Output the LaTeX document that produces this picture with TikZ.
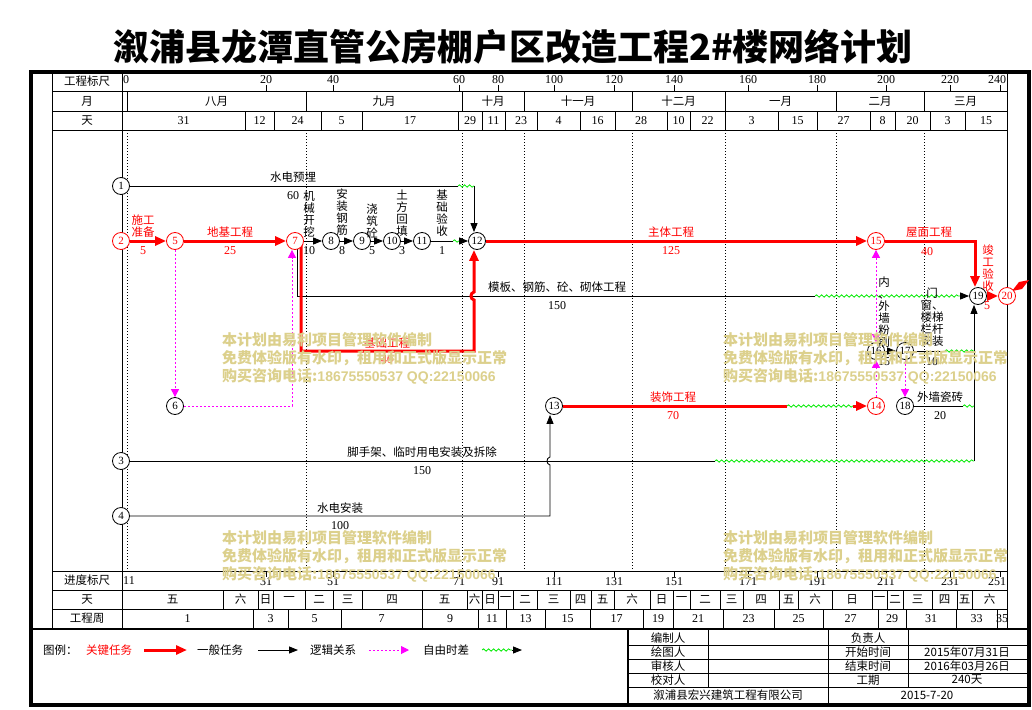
\documentclass[tikz,border=0pt]{standalone}
\usepackage{fontspec}
\setmainfont{Liberation Serif}
\newfontfamily\cjk{Noto Sans CJK SC}
\newfontfamily\asciib{Liberation Sans}
\usetikzlibrary{arrows.meta,decorations.pathmorphing}
\pgfdeclarelayer{grid}
\pgfdeclarelayer{edges}
\pgfsetlayers{grid,edges,main}
\definecolor{wm}{RGB}{220,208,140}
\definecolor{mag}{RGB}{255,0,255}
\definecolor{grn}{RGB}{0,235,0}
\definecolor{critred}{RGB}{255,0,0}
\tikzset{
 hdr/.style={font=\cjk\fontsize{11.5}{12}\selectfont,inner sep=0pt},
 hnum/.style={font=\fontsize{12}{12}\selectfont,inner sep=0pt},
 tbl/.style={draw=black,line width=0.8pt},
 grd/.style={draw=black,line width=0.6pt,dash pattern=on 1pt off 2pt},
 evt/.style={circle,draw=black,line width=0.8pt,fill=white,minimum size=17pt,inner sep=0pt,font=\fontsize{11}{11}\selectfont},
 revt/.style={evt,draw=critred,text=critred},
 lab/.style={font=\cjk\fontsize{11.5}{12}\selectfont,inner sep=0pt},
 rlab/.style={lab,text=critred},
 vlab/.style={lab,align=center},
 dur/.style={font=\fontsize{12}{12}\selectfont,inner sep=0pt},
 rdur/.style={dur,text=critred},
 crit/.style={draw=critred,line width=3pt},
 gen/.style={draw=black,line width=0.9pt},
 tipb/.style={-{Triangle[length=9pt,width=7pt]}},
 tipr/.style={-{Triangle[length=11pt,width=9pt]}},
 logic/.style={draw=mag,line width=1pt,dash pattern=on 2pt off 2pt},
 tipm/.style={-{Triangle[length=8pt,width=8pt]}},
 wave/.style={draw=grn,line width=0.8pt,decorate,decoration={snake,segment length=5pt,amplitude=1.2pt}},
 wmark/.style={font=\cjk\bfseries\fontsize{15}{15}\selectfont,text=wm,anchor=west,inner sep=0pt},
}
\begin{document}
\begin{tikzpicture}[x=1pt,y=-1pt]
\useasboundingbox (0,0) rectangle (1032,709);

\begin{pgfonlayer}{grid}
\fill[white] (0,0) rectangle (1032,709);
\draw[tbl] (52,72) -- (52,628);
\draw[tbl] (122,72) -- (122,628);
\draw[tbl] (1007,72) -- (1007,628);
\foreach \y in {91,111,130,571,590,609} \draw[tbl] (52,\y) -- (1007,\y);
\draw[line width=2.5pt] (31,629) -- (1029,629);
\draw[line width=4pt] (31,72) rectangle (1029,705);
\foreach \x in {127,306,462,524,632,725,836,924} \draw[grd] (\x,130) -- (\x,571);
\draw[line width=1.5pt] (628,630) -- (628,705);
\foreach \y in {645,659,673,687} \draw[tbl] (628,\y) -- (1029,\y);
\draw[tbl] (708,630) -- (708,687);
\draw[tbl] (828,630) -- (828,705);
\draw[tbl] (908,630) -- (908,687);
\end{pgfonlayer}

% title
\node[font=\cjk\bfseries\fontsize{36}{36}\selectfont,inner sep=0pt] (title) at (513,47) {溆浦县龙潭直管公房棚户区改造工程2\#楼网络计划};

\node[hdr] (h1) at (87,81) {工程标尺};
\node[hdr] (h2) at (87,101) {月};
\node[hdr] (h3) at (87,120.5) {天};
\node[hdr] (h4) at (87,580.5) {进度标尺};
\node[hdr] (h5) at (87,599.5) {天};
\node[hdr] (h6) at (87,618.5) {工程周};

\node[hnum,anchor=west] (st0) at (123,80) {0};
\node[hnum,anchor=west] (sb0) at (123,581) {11};
\foreach \x/\a/\b/\o [count=\i] in {266/20/31/0,333/40/51/0,459/60/71/0,498/80/91/0,554/100/111/0,614/120/131/0,674/140/151/0,748/160/171/0,817/180/191/0,886/200/211/0,950/220/231/0,1000/240/251/-3}{
 \draw[tbl] (\x,85) -- (\x,91);
 \node[hnum] (st\i) at (\x+\o,80) {\a};
 \draw[tbl] (\x,571) -- (\x,577);
 \node[hnum] (sb\i) at (\x+\o,582) {\b};
}
\foreach \a/\b/\t [count=\i] in {127/306/八月,306/462/九月,462/524/十月,524/632/十一月,632/725/十二月,725/836/一月,836/924/二月,924/1007/三月}{
 \draw[tbl] (\a,91) -- (\a,111);
 \node[hdr] (mo\i) at ({(\a+\b)/2},101) {\t};
}
\foreach \a/\b/\t [count=\i] in {122/245/31,245/274/12,274/321/24,321/362/5,362/458/17,458/482/29,482/505/11,505/537/23,537/580/4,580/615/16,615/667/28,667/690/10,690/725/22,725/778/3,778/817/15,817/870/27,870/895/8,895/930/20,930/965/3,965/1007/15}{
 \draw[tbl] (\b,111) -- (\b,130);
 \node[hnum] (dy\i) at ({(\a+\b)/2},120.5) {\t};
}
\foreach \a/\b/\t [count=\i] in {122/223/五,223/258/六,258/273/日,273/305/一,305/333/二,333/362/三,362/422/四,422/467/五,467/482/六,482/498/日,498/513/一,513/537/二,537/570/三,570/591/四,591/614/五,614/650/六,650/673/日,673/690/一,690/720/二,720/743/三,743/779/四,779/798/五,798/832/六,832/872/日,872/887/一,887/903/二,903/932/三,932/957/四,957/972/五,972/1007/六}{
 \draw[tbl] (\b,590) -- (\b,609);
 \node[hdr] (wd\i) at ({(\a+\b)/2},599.5) {\t};
}
\foreach \a/\b/\t [count=\i] in {122/253/1,253/288/3,288/341/5,341/422/7,422/478/9,478/506/11,506/545/13,545/590/15,590/643/17,643/673/19,673/723/21,723/774/23,774/823/25,823/878/27,878/906/29,906/956/31,956/997/33,997/1007/35}{
 \draw[tbl] (\b,609) -- (\b,628);
 \node[hnum] (wk\i) at ({(\a+\b)/2},618.5) {\t};
}

\node[evt] (n1) at (121,186) {1};
\node[revt] (n2) at (121,241) {2};
\node[evt] (n3) at (121,461) {3};
\node[evt] (n4) at (121,516) {4};
\node[revt] (n5) at (175,241) {5};
\node[evt] (n6) at (175,406) {6};
\node[revt] (n7) at (295,241) {7};
\node[evt] (n8) at (331,241) {8};
\node[evt] (n9) at (362,241) {9};
\node[evt] (n10) at (392,241) {10};
\node[evt] (n11) at (422,241) {11};
\node[evt] (n12) at (477,241) {12};
\node[evt] (n13) at (554,406) {13};
\node[revt] (n14) at (876,406) {14};
\node[revt] (n15) at (876,241) {15};
\node[evt] (n16) at (876,351) {16};
\node[evt] (n17) at (905,351) {17};
\node[evt] (n18) at (905,406) {18};
\node[evt] (n19) at (978,296) {19};
\node[revt] (n20) at (1007,296) {20};

\begin{pgfonlayer}{edges}
\draw[gen] (n1) -- (458,186);
\draw[wave] (458,186) -- (474,186);
\draw[gen,tipb] (474,186) -- ([xshift=-3pt]n12.north);
\draw[crit,tipr] (n2) -- (n5);
\draw[crit,tipr] (n5) -- (n7);
\draw[gen,tipb] (n7) -- (n8);
\draw[gen,tipb] (n8) -- (n9);
\draw[gen,tipb] (n9) -- (n10);
\draw[gen,tipb] (n10) -- (n11);
\draw[gen] (n11) -- (453,241);
\draw[wave] (453,241) -- (461,241);
\draw[gen,tipb] (461,241) -- (n12);
\draw[crit,tipr] (n12) -- (n15);
\draw[crit,tipr] (n15) -| ([xshift=-3pt]n19.north);
\draw[crit,tipr] (n19) -- (n20);
\fill[critred] (1012,291) -- (1019,282) -- (1029,280) -- (1022,289) -- cycle;
\draw[gen] ([xshift=2.5pt]n7.center) |- (815,296);
\draw[wave] (815,296) -- (960,296);
\draw[gen,tipb] (960,296) -- (n19);
\draw[crit,tipr] ([xshift=6pt]n7.center) |- (474,351) -- (474,300) .. controls (470,299) and (470,293) .. (474,292) -- ([xshift=-3pt]n12.south);
\draw[logic,tipm] (n5) -- (n6);
\draw[logic,tipm] (n6) -| ([xshift=-3pt]n7.south);
\draw[logic,{Triangle[length=8pt,width=8pt]}-{Triangle[length=8pt,width=8pt]}] (n15) -- (n16);
\draw[logic,tipm] (n14) -- (n16);
\draw[logic,tipm] (n17) -- (n18);
\draw[crit] (n13) -- (787,406);
\draw[wave] (787,406) -- (853,406);
\draw[crit,tipr] (853,406) -- (n14);
\draw[gen] (n3) -- (715,461);
\draw[wave] (715,461) -- (974,461);
\draw[gen,tipb] (974,461) -- ([xshift=-4pt]n19.south);
\draw[gen,tipb] (n4) -- (550,516) -- (550,465) .. controls (546,464) and (546,458) .. (550,457) -- ([xshift=-4pt]n13.south);
\draw[gen,tipb] (n16) -- (n17);
\draw[gen] (n17) -- (945,351);
\draw[wave] (945,351) -- (974,351);
\draw[gen] (n18) -- (963,406);
\draw[wave] (963,406) -- (974,406);
\end{pgfonlayer}

\node[lab] (a1) at (293,177) {水电预埋};
\node[dur] (d1) at (293,196) {60};
\node[rlab,align=center] (a2) at (143,226.5) {施工\\准备};
\node[rdur] (d2) at (143,251) {5};
\node[rlab] (a3) at (230,232) {地基工程};
\node[rdur] (d3) at (230,251) {25};
\node[vlab] (a4) at (309,214) {机\\械\\开\\挖};
\node[dur] (d4) at (309,251) {10};
\node[vlab] (a5) at (342,212) {安\\装\\钢\\筋};
\node[dur] (d5) at (342,251) {8};
\node[vlab] (a6) at (372,221) {浇\\筑\\砼};
\node[dur] (d6) at (372,251) {5};
\node[vlab] (a7) at (402,213) {土\\方\\回\\填};
\node[dur] (d7) at (402,251) {3};
\node[vlab] (a8) at (442,213) {基\\础\\验\\收};
\node[dur] (d8) at (442,251) {1};
\node[rlab] (a9) at (671,232) {主体工程};
\node[rdur] (d9) at (671,251) {125};
\node[rlab] (a10) at (929,232) {屋面工程};
\node[rdur] (d10) at (927,252) {40};
\node[vlab,text=critred] (a11) at (988,268) {竣\\工\\验\\收};
\node[rdur] (d11) at (987,306) {5};
\node[lab] (a12) at (557,287) {模板、钢筋、砼、砌体工程};
\node[dur] (d12) at (557,306) {150};
\node[rlab] (a13) at (387,343) {基础工程};
\node[rdur] (d13) at (387,360) {40};
\node[rlab] (a14) at (673,397) {装饰工程};
\node[rdur] (d14) at (673,416) {70};
\node[lab] (a15) at (422,452) {脚手架、临时用电安装及拆除};
\node[dur] (d15) at (422,471) {150};
\node[lab] (a16) at (340,508) {水电安装};
\node[dur] (d16) at (340,526) {100};
\node[vlab] (a17) at (884,312) {内\\、\\外\\墙\\粉\\刷};
\node[dur] (d17) at (884,362) {15};
\node[vlab] (a18) at (932,317) {门\\窗、\\楼梯\\栏杆\\安装};
\node[dur] (d18) at (932,362) {10};
\node[lab] (a19) at (940,397) {外墙瓷砖};
\node[dur] (d19) at (940,416) {20};

\node[lab,anchor=west] (lg0) at (43,650) {图例：};
\node[rlab,anchor=west] (lg1) at (86,650) {关键任务};
\coordinate (lr1) at (144,650); \coordinate (lr2) at (187,650);
\draw[crit,tipr] (lr1) -- (lr2);
\node[lab,anchor=west] (lg2) at (197,650) {一般任务};
\coordinate (lb1) at (258,650); \coordinate (lb2) at (298,650);
\draw[gen,tipb] (lb1) -- (lb2);
\node[lab,anchor=west] (lg3) at (310,650) {逻辑关系};
\coordinate (lm1) at (369,650); \coordinate (lm2) at (409,650);
\draw[logic,tipm] (lm1) -- (lm2);
\node[lab,anchor=west] (lg4) at (423,650) {自由时差};
\coordinate (lw1) at (482,650); \coordinate (lw2) at (512,650); \coordinate (lw3) at (522,650);
\draw[wave] (lw1) -- (lw2);
\draw[gen,tipb] (lw2) -- (lw3);

\node[lab] (t1) at (668,638) {编制人};
\node[lab] (t2) at (668,652) {绘图人};
\node[lab] (t3) at (668,666) {审核人};
\node[lab] (t4) at (668,680) {校对人};
\node[lab] (t5) at (868,638) {负责人};
\node[lab] (t6) at (868,652) {开始时间};
\node[lab] (t7) at (868,666) {结束时间};
\node[lab] (t8) at (868,680) {工期};
\node[lab] (t9) at (967,652) {2015年07月31日};
\node[lab] (t10) at (967,666) {2016年03月26日};
\node[lab] (t11) at (967,680) {240天};
\node[lab] (t12) at (728,695) {溆浦县宏兴建筑工程有限公司};
\node[lab] (t13) at (927,695) {2015-7-20};

\foreach \wx/\wy [count=\i] in {222/340,723/340,222/538,723/538}{
 \node[wmark] (wa\i) at (\wx,\wy) {本计划由易利项目管理软件编制};
 \node[wmark] (wb\i) at (\wx,\wy+18) {免费体验版有水印，租用和正式版显示正常};
 \node[wmark] (wc\i) at (\wx,\wy+36) {购买咨询电话:{\asciib\bfseries\fontsize{14}{14}\selectfont 18675550537 QQ:22150066}};
}
\end{tikzpicture}
\end{document}
